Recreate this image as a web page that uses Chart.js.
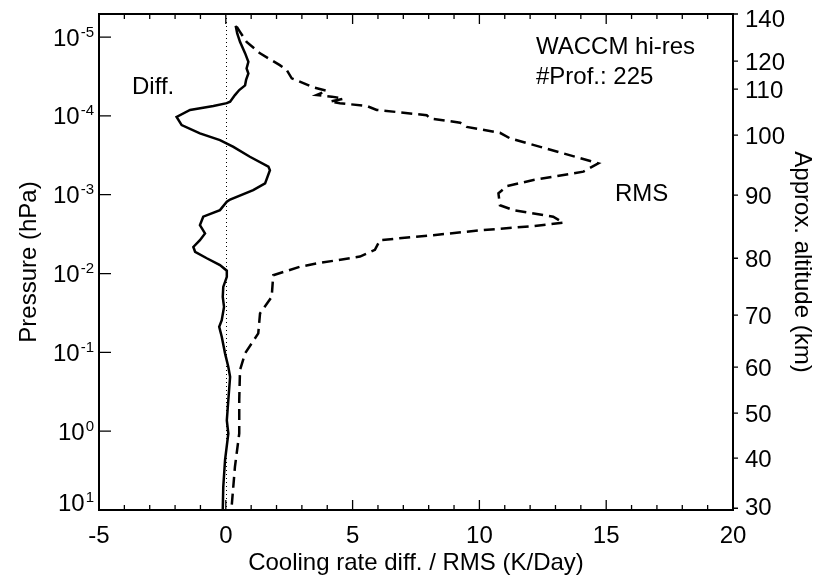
<!DOCTYPE html>
<html>
<head>
<meta charset="utf-8">
<script src="https://cdn.jsdelivr.net/npm/chart.js@4"></script>
<style>
  body { margin: 0; background: #fff; }
  #wrap { width: 817px; height: 576px; }
</style>
</head>
<body>
<div id="wrap"><canvas id="profile" width="817" height="576"></canvas></div>
<script>
// profiles: pressure levels (hPa) and cooling rate (K/Day)
const diffPressure = [7.2e-6, 9.0e-6, 1.15e-5, 1.6e-5, 2.06e-5, 2.5e-5, 2.9e-5, 3.5e-5, 4.1e-5, 4.7e-5,
  5.45e-5, 6.6e-5, 6.9e-5, 7.5e-5, 8.4e-5, 1.03e-4, 1.31e-4, 1.67e-4, 2.03e-4, 2.47e-4,
  3.3e-4, 4.4e-4, 4.9e-4, 7.2e-4, 8.75e-4, 1.15e-3, 1.23e-3, 1.57e-3, 1.9e-3, 2.43e-3,
  3.1e-3, 3.77e-3, 4.6e-3, 5.3e-3, 6.4e-3, 7.8e-3, 9.2e-3, 1.1e-2, 1.48e-2, 1.98e-2,
  2.65e-2, 3.9e-2, 4.75e-2, 6.35e-2, 0.103, 0.153, 0.205, 0.40, 0.73, 1.07, 2.33, 5.1, 10];
const diffValues = [0.39, 0.45, 0.56, 0.76, 0.89, 0.82, 0.89, 0.80, 0.76, 0.53,
  0.36, 0.17, 0.04, -0.49, -1.41, -1.94, -1.74, -1.02, -0.23, 0.30,
  0.95, 1.68, 1.74, 1.55, 1.08, 0.17, 0.04, -0.23, -0.89, -1.02,
  -0.82, -1.02, -1.28, -1.21, -0.75, -0.23, 0.04, 0.04, -0.10, -0.12,
  -0.07, -0.16, -0.26, -0.16, -0.03, 0.10, 0.17, 0.10, 0.04, 0.10, -0.03, -0.10, -0.12];

const rmsPressure = [7.4e-6, 8.6e-6, 1.15e-5, 1.61e-5, 2.27e-5, 2.62e-5, 3.34e-5, 4.35e-5, 4.8e-5, 5.45e-5,
  5.7e-5, 6.07e-5, 6.6e-5, 6.9e-5, 7.5e-5, 8.4e-5, 9.8e-5, 1.08e-4, 1.22e-4, 1.38e-4,
  1.64e-4, 1.93e-4, 2.99e-4, 4.0e-4, 5.1e-4, 6.5e-4, 7.8e-4, 9.6e-4, 1.36e-3, 1.57e-3,
  1.9e-3, 2.27e-3, 2.5e-3, 2.81e-3, 3.26e-3, 3.77e-3, 5.0e-3, 6.1e-3, 7.45e-3, 8.2e-3,
  1.05e-2, 1.98e-2, 3.2e-2, 5.75e-2, 0.103, 0.168, 0.40, 1.07, 2.84, 9.1, 10];
const rmsValues = [0.43, 0.56, 0.82, 1.35, 2.13, 2.40, 2.60, 3.45, 3.98, 3.58,
  4.18, 4.63, 4.11, 4.50, 5.56, 5.95, 7.92, 8.05, 9.24, 9.50,
  10.81, 11.21, 13.31, 14.69, 14.10, 12.13, 11.08, 10.75, 10.81, 11.34,
  12.91, 13.31, 12.13, 10.15, 8.18, 6.08, 5.88, 5.29, 3.58, 2.93,
  1.87, 1.81, 1.35, 1.28, 0.76, 0.56, 0.53, 0.53, 0.36, 0.23, 0.22];

// axes
const xMin = -5, xMax = 20;
const xTickLabels = [-5, 0, 5, 10, 15, 20];
const pressureExponents = [-5, -4, -3, -2, -1, 0, 1];
const pTop = 5.1e-6, pBottom = 10;
// right axis: approx. altitude labels and the pressure they sit at
const altitudeLabels = [30, 40, 50, 60, 70, 80, 90, 100, 110, 120, 140];
const altitudePressure = [9.5, 2.2, 0.59, 0.154, 0.0337, 6.4e-3, 1.01e-3, 1.75e-4, 4.57e-5, 2.02e-5, 5.1e-6];

const FONT = '"Liberation Sans", Arial, Helvetica, sans-serif';

function toPoints(p, v) {
  return p.map((y, i) => ({ x: v[i], y: y }));
}

// IDL-style frame: inward ticks, superscript pressure labels, altitude axis on the right
const idlAxes = {
  id: 'idlAxes',
  beforeDatasetsDraw(chart) {
    const { ctx, chartArea: a, scales: { x } } = chart;
    const px = Math.round(x.getPixelForValue(0)) + 0.5;
    ctx.save();
    ctx.strokeStyle = '#000';
    ctx.lineWidth = 1;
    ctx.setLineDash([1, 3]);
    ctx.beginPath();
    ctx.moveTo(px, a.top);
    ctx.lineTo(px, a.bottom);
    ctx.stroke();
    ctx.restore();
  },
  afterDraw(chart) {
    const { ctx, chartArea: a, scales: { x, y } } = chart;
    ctx.save();
    ctx.strokeStyle = '#000';
    ctx.fillStyle = '#000';
    ctx.lineWidth = 2;
    ctx.strokeRect(a.left, a.top, a.right - a.left, a.bottom - a.top);

    // x ticks top and bottom
    ctx.lineWidth = 1.3;
    ctx.beginPath();
    for (let v = xMin; v <= xMax; v++) {
      const px = x.getPixelForValue(v);
      const len = v % 5 === 0 ? 10 : 5;
      ctx.moveTo(px, a.bottom); ctx.lineTo(px, a.bottom - len);
      ctx.moveTo(px, a.top); ctx.lineTo(px, a.top + len);
    }
    // pressure ticks (inward, left)
    pressureExponents.forEach(e => {
      const py = y.getPixelForValue(Math.pow(10, e));
      ctx.moveTo(a.left, py); ctx.lineTo(a.left + 12, py);
    });
    // altitude ticks (outward, right)
    altitudePressure.forEach(p => {
      const py = y.getPixelForValue(p);
      ctx.moveTo(a.right, py); ctx.lineTo(a.right + 5, py);
    });
    ctx.stroke();

    // x tick labels
    ctx.font = '24px ' + FONT;
    ctx.textAlign = 'center';
    ctx.textBaseline = 'alphabetic';
    xTickLabels.forEach(v => ctx.fillText(String(v), x.getPixelForValue(v), 543));

    // pressure labels 10^e (kept inside the frame height)
    pressureExponents.forEach(e => {
      const py = Math.min(y.getPixelForValue(Math.pow(10, e)), a.bottom - 8);
      ctx.font = '15px ' + FONT;
      const expW = ctx.measureText(String(e)).width;
      ctx.font = '24px ' + FONT;
      const baseW = ctx.measureText('10').width;
      const right = a.left - 5;
      ctx.textAlign = 'left';
      ctx.fillText('10', right - expW - baseW - 1, py + 8.6);
      ctx.font = '15px ' + FONT;
      ctx.fillText(String(e), right - expW, py - 0.5);
    });

    // altitude labels
    ctx.font = '24px ' + FONT;
    ctx.textAlign = 'left';
    altitudeLabels.forEach((alt, i) => {
      const py = Math.max(Math.min(y.getPixelForValue(altitudePressure[i]), a.bottom - 4), a.top + 4);
      ctx.fillText(String(alt), a.right + 12, py + 8.6);
    });

    // axis titles
    ctx.textAlign = 'center';
    ctx.fillText('Cooling rate diff. / RMS (K/Day)', (a.left + a.right) / 2, 570);
    const midY = (a.top + a.bottom) / 2;
    ctx.save();
    ctx.translate(36, midY);
    ctx.rotate(-Math.PI / 2);
    ctx.fillText('Pressure (hPa)', 0, 0);
    ctx.restore();
    ctx.save();
    ctx.translate(795, midY);
    ctx.rotate(Math.PI / 2);
    ctx.fillText('Approx. altitude (km)', 0, 0);
    ctx.restore();

    // annotations
    ctx.textAlign = 'left';
    ctx.fillText('Diff.', 132, 94);
    ctx.fillText('RMS', 615, 201);
    ctx.fillText('WACCM hi-res', 536, 54);
    ctx.fillText('#Prof.: 225', 536, 84);
    ctx.restore();
  }
};

new Chart(document.getElementById('profile'), {
  type: 'scatter',
  data: {
    datasets: [{
      label: 'Diff.',
      data: toPoints(diffPressure, diffValues),
      showLine: true,
      borderColor: '#000',
      borderWidth: 2.5,
      pointRadius: 0,
      tension: 0
    }, {
      label: 'RMS',
      data: toPoints(rmsPressure, rmsValues),
      showLine: true,
      borderColor: '#000',
      borderWidth: 2.5,
      borderDash: [11, 6],
      pointRadius: 0,
      tension: 0
    }]
  },
  options: {
    responsive: false,
    animation: false,
    events: [],
    layout: { padding: { left: 99, top: 14, right: 84, bottom: 66 } },
    plugins: { legend: { display: false }, tooltip: { enabled: false } },
    scales: {
      x: { type: 'linear', min: xMin, max: xMax, display: false },
      y: { type: 'logarithmic', min: pTop, max: pBottom, reverse: true, display: false }
    }
  },
  plugins: [idlAxes]
});
</script>
</body>
</html>
